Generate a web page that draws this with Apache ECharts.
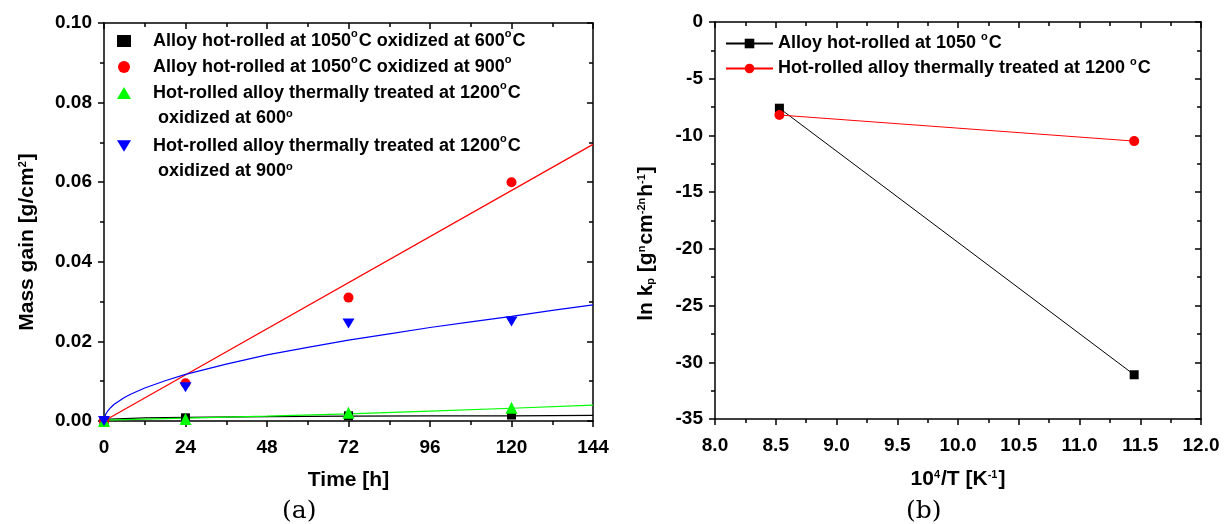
<!DOCTYPE html>
<html lang="en">
<head>
    <meta charset="UTF-8">
    <title>Mass gain and ln kp</title>
    <style>
        * { margin: 0; padding: 0; }
        #main { width: 1230px; height: 524px; background: #fff; }
    </style>
</head>
<body>
    <div id="main"></div>
</body>
<script src="https://cdn.jsdelivr.net/npm/echarts@6/dist/echarts.min.js"></script>
<script>
    // (a) measured mass gain, time in h
    let timeH = [0, 24, 72, 120];
    let gain1050at600 = [0, 0.0008, 0.0013, 0.0015];
    let gain1050at900 = [0, 0.0095, 0.031, 0.060];
    let gain1200at600 = [0, 0.0005, 0.0021, 0.0033];
    let gain1200at900 = [0, 0.0085, 0.0245, 0.025];

    // (a) fitted curves
    let fitBlackT = [0, 12, 24, 48, 72, 96, 120, 144];
    let fitBlack = [0.0004, 0.0008, 0.0009, 0.0011, 0.0012, 0.0013, 0.0013, 0.0014];
    let fitRedT = [0, 144];
    let fitRed = [0, 0.0695];
    let fitGreenT = [0, 24, 48, 72, 96, 120, 144];
    let fitGreen = [0.0002, 0.0007, 0.0012, 0.0018, 0.0025, 0.0032, 0.0040];
    let fitBlueT = [0, 0.5, 1, 2, 3, 4, 6, 8, 12, 18, 24, 36, 48, 60, 72, 84, 96, 108, 120, 132, 144];
    let fitBlue = [0, 0.0017, 0.0024, 0.0034, 0.0042, 0.0048, 0.0059, 0.0068, 0.0083, 0.0101, 0.0117,
        0.0143, 0.0166, 0.0185, 0.0203, 0.0219, 0.0235, 0.0249, 0.0263, 0.0278, 0.0292];

    // (b) ln kp vs 10^4/T
    let invT = [8.53, 11.45];
    let lnKp1050 = [-7.6, -31.1];
    let lnKp1200 = [-8.2, -10.5];

    let seriesNamesA = [
        'Alloy hot-rolled at 1050{s|o}C oxidized at 600{s|o}C',
        'Alloy hot-rolled at 1050{s|o}C oxidized at 900{s|o}',
        'Hot-rolled alloy thermally treated at 1200{s|o}C',
        'Hot-rolled alloy thermally treated at 1200{s|o}C '
    ];
    let secondLinesA = [' oxidized at 600{s|o}', ' oxidized at 900{s|o}'];
    let seriesNamesB = ['Alloy hot-rolled at 1050 {s|o}C', 'Hot-rolled alloy thermally treated at 1200 {s|o}C'];

    const font = '"Liberation Sans", Arial, sans-serif';
    const rich = {
        s: { fontSize: 11, fontWeight: 'bold', fontFamily: font, verticalAlign: 'top', padding: [0, 1, 9, 0] },
        b: { fontSize: 11, fontWeight: 'bold', fontFamily: font, padding: [9, 0, 0, 0] }
    };
    const textBase = { color: '#000', fontWeight: 'bold', fontFamily: font };

    function zip(xs, ys) {
        return xs.map((x, i) => [x, ys[i]]);
    }

    function makeAxes(x, y) {
        let tickOut = { show: true, length: 6, inside: false, lineStyle: { color: '#000', width: 1.5 } };
        let tickIn = { show: true, length: 6, inside: true, lineStyle: { color: '#000', width: 1.5 } };
        let minorOut = { show: true, splitNumber: 2, length: 4, lineStyle: { color: '#000', width: 1.5 } };
        let line = { show: true, onZero: false, lineStyle: { color: '#000', width: 1.5 } };
        let label = Object.assign({ fontSize: 19, margin: 17 }, textBase);
        return {
            xAxis: [
                Object.assign({
                    type: 'value', position: 'bottom',
                    axisLine: line, axisTick: tickOut, minorTick: minorOut,
                    axisLabel: label, splitLine: { show: false }, nameLocation: 'middle'
                }, x),
                {
                    type: 'value', position: 'top', min: x.min, max: x.max, interval: x.interval,
                    axisLine: line, axisTick: tickIn, minorTick: Object.assign({}, minorOut, { inside: true }),
                    axisLabel: { show: false }, splitLine: { show: false }
                }
            ],
            yAxis: [
                Object.assign({
                    type: 'value', position: 'left',
                    axisLine: line, axisTick: tickOut, minorTick: minorOut,
                    axisLabel: label, splitLine: { show: false }, nameLocation: 'middle', nameRotate: 90
                }, y),
                {
                    type: 'value', position: 'right', min: y.min, max: y.max, interval: y.interval,
                    axisLine: line, axisTick: tickIn, minorTick: Object.assign({}, minorOut, { inside: true }),
                    axisLabel: { show: false }, splitLine: { show: false }
                }
            ]
        };
    }

    let axA = makeAxes(
        {
            min: 0, max: 144, interval: 24, name: 'Time [h]', nameGap: 49,
            nameTextStyle: Object.assign({ fontSize: 21 }, textBase)
        },
        {
            min: 0, max: 0.1, interval: 0.02, name: 'Mass gain [g/cm{s|2}]', nameGap: 66,
            axisLabel: Object.assign({ fontSize: 19, margin: 12, formatter: v => v.toFixed(2) }, textBase),
            nameTextStyle: Object.assign({ fontSize: 21, rich: rich, padding: [0, 0, 0, -40] }, textBase)
        });
    let axB = makeAxes(
        {
            min: 8, max: 12, interval: 0.5, name: '10{s|4}/T [K{s|-1}]', nameGap: 50,
            axisLabel: Object.assign({ fontSize: 19, margin: 17, formatter: v => v.toFixed(1) }, textBase),
            nameTextStyle: Object.assign({ fontSize: 21, rich: rich }, textBase)
        },
        {
            min: -35, max: 0, interval: 5, name: 'ln k{b|p} [g{s|n}cm{s|-2n}h{s|-1}]', nameGap: 58,
            axisLabel: Object.assign({ fontSize: 19, margin: 12 }, textBase),
            nameTextStyle: Object.assign({ fontSize: 21, rich: rich, padding: [0, 0, 0, -46] }, textBase)
        });

    let xAxes = axA.xAxis.concat(axB.xAxis);
    let yAxes = axA.yAxis.concat(axB.yAxis);
    // the second grid's axes come after the first grid's two
    xAxes.forEach((a, i) => { a.gridIndex = i < 2 ? 0 : 1; });
    yAxes.forEach((a, i) => { a.gridIndex = i < 2 ? 0 : 1; });

    function fitLine(name, xs, ys, color) {
        return {
            name: name, type: 'line', xAxisIndex: 0, yAxisIndex: 0, data: zip(xs, ys),
            showSymbol: false, silent: true,
            lineStyle: { color: color, width: 1.2 }, z: 2
        };
    }
    function dots(name, ys, symbol, color, size) {
        return {
            name: name, type: 'scatter', xAxisIndex: 0, yAxisIndex: 0, data: zip(timeH, ys),
            symbol: symbol, symbolSize: size, itemStyle: { color: color, opacity: 1 }, z: 3
        };
    }

    const downTriangle = 'path://M0,0L12,0L6,10Z';

    let series = [
        fitLine('fit1', fitBlackT, fitBlack, '#000'),
        fitLine('fit2', fitRedT, fitRed, '#ff0000'),
        fitLine('fit3', fitGreenT, fitGreen, '#00ff00'),
        fitLine('fit4', fitBlueT, fitBlue, '#0000ff'),
        dots(seriesNamesA[0], gain1050at600, 'rect', '#000', 9),
        dots(seriesNamesA[1], gain1050at900, 'circle', '#ff0000', 10),
        dots(seriesNamesA[2], gain1200at600, 'triangle', '#00ff00', 12),
        dots(seriesNamesA[3], gain1200at900, downTriangle, '#0000ff', [12, 10]),
        {
            name: seriesNamesB[0], type: 'line', xAxisIndex: 2, yAxisIndex: 2, data: zip(invT, lnKp1050),
            symbol: 'rect', symbolSize: 9, itemStyle: { color: '#000' }, lineStyle: { color: '#000', width: 1 }
        },
        {
            name: seriesNamesB[1], type: 'line', xAxisIndex: 2, yAxisIndex: 2, data: zip(invT, lnKp1200),
            symbol: 'circle', symbolSize: 10, itemStyle: { color: '#ff0000' }, lineStyle: { color: '#ff0000', width: 1 }
        }
    ];

    let legendText = Object.assign({ fontSize: 18, lineHeight: 26, rich: rich, padding: [0, 0, 0, 17] }, textBase);
    function legendA(names, top) {
        return {
            data: names, left: 117, top: top, orient: 'vertical', itemGap: 0, padding: 0,
            itemWidth: 14, itemHeight: 12, selectedMode: false, textStyle: legendText
        };
    }

    const captionFont = '25px "DejaVu Serif", "Liberation Serif", serif';

    let option = {
        animation: false,
        grid: [
            { left: 104, top: 23, right: 637, bottom: 103 },
            { left: 715, top: 22, right: 29, bottom: 105 }
        ],
        xAxis: xAxes,
        yAxis: yAxes,
        legend: [
            legendA([seriesNamesA[0], seriesNamesA[1]], 28),
            legendA([seriesNamesA[2]], 80),
            legendA([{ name: seriesNamesA[3], icon: downTriangle }], 133),
            {
                data: seriesNamesB, left: 725, top: 31, orient: 'vertical', itemGap: 0, padding: 0,
                itemWidth: 47, itemHeight: 12, selectedMode: false,
                textStyle: Object.assign({}, legendText, { lineHeight: 25, padding: [0, 0, 0, 0] })
            }
        ],
        graphic: [
            { type: 'text', left: 153, top: 108, style: { text: secondLinesA[0], font: 'bold 18px ' + font, rich: rich } },
            { type: 'text', left: 153, top: 161, style: { text: secondLinesA[1], font: 'bold 18px ' + font, rich: rich } },
            { type: 'text', left: 282, top: 499, style: { text: '(a)', font: captionFont, fill: '#000' } },
            { type: 'text', left: 906, top: 499, style: { text: '(b)', font: captionFont, fill: '#000' } }
        ],
        series: series
    };

    let myChart = echarts.init(document.getElementById('main'));
    myChart.setOption(option);
    window.addEventListener('resize', () => {
        myChart.resize();
    });
</script>
</html>
